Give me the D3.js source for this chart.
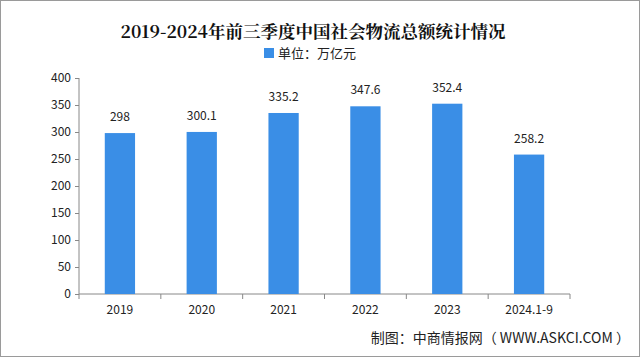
<!DOCTYPE html>
<html><head><meta charset="utf-8">
<script src="https://cdn.jsdelivr.net/npm/d3@7"></script>
<style>html,body{margin:0;padding:0;background:#fff;}svg{display:block;}</style>
</head><body>
<svg id="c" width="640" height="357"></svg>
<script>
const categories = ["2019","2020","2021","2022","2023","2024.1-9"];
const values = [298, 300.1, 335.2, 347.6, 352.4, 258.2];
const valueLabels = ["298","300.1","335.2","347.6","352.4","258.2"];
const yTicks = [0,50,100,150,200,250,300,350,400];
const title = "2019-2024年前三季度中国社会物流总额统计情况";
const legendLabel = "单位：万亿元";
const source = "制图：中商情报网（ WWW.ASKCI.COM ）";

const svg = d3.select("#c");
const color = "#3a8ee6";
const font = "'Noto Sans CJK SC', 'DejaVu Sans', sans-serif";

svg.append("rect").attr("x",0.5).attr("y",0.5).attr("width",639).attr("height",356)
  .attr("fill","#fff").attr("stroke","#9a9a9a").attr("stroke-width",1);

const x = d3.scaleBand().domain(categories).range([79,570]).paddingInner(0.63).paddingOuter(0.315);
const y = d3.scaleLinear().domain([0,400]).range([294,78]);

svg.append("text").attr("x",313).attr("y",38).attr("text-anchor","middle")
  .attr("font-family","'Noto Serif CJK SC','Noto Sans CJK SC',serif").attr("font-weight","bold")
  .attr("font-size",17.5).attr("fill","#111").text(title);

svg.append("rect").attr("x",264).attr("y",48).attr("width",10).attr("height",10).attr("fill",color);
svg.append("text").attr("x",278).attr("y",58).attr("font-family",font).attr("font-size",13)
  .attr("fill","#222").text(legendLabel);

// y axis
const ya = svg.append("g").attr("transform","translate(79,0)")
  .call(d3.axisLeft(y).tickValues(yTicks).tickSize(4).tickPadding(4));
ya.select(".domain").attr("stroke","#888").attr("d","M0,78V294");
ya.selectAll(".tick line").attr("stroke","#888");
ya.selectAll("text").attr("font-family",font).attr("font-size",12).attr("fill","#222");

// x axis
const xa = svg.append("g").attr("transform","translate(0,294)")
  .call(d3.axisBottom(x).tickSize(0).tickPadding(11));
xa.select(".domain").attr("stroke","#888").attr("d","M79,0H570");
xa.selectAll("text").attr("font-family",font).attr("font-size",12).attr("fill","#222");
const bounds = d3.range(categories.length+1).map(i => 79 + i*(491/categories.length));
svg.append("g").selectAll("line").data(bounds).join("line")
  .attr("x1",d=>d).attr("x2",d=>d).attr("y1",294).attr("y2",299).attr("stroke","#888");

// bars
svg.append("g").selectAll("rect").data(values).join("rect")
  .attr("x",(d,i)=>x(categories[i])).attr("width",x.bandwidth())
  .attr("y",d=>y(d)).attr("height",d=>y(0)-y(d)).attr("fill",color);

svg.append("g").selectAll("text").data(values).join("text")
  .attr("x",(d,i)=>x(categories[i])+x.bandwidth()/2).attr("y",d=>y(d)-12)
  .attr("text-anchor","middle").attr("font-family",font).attr("font-size",12).attr("fill","#222")
  .text((d,i)=>valueLabels[i]);

svg.append("text").attr("x",630).attr("y",343).attr("text-anchor","end")
  .attr("font-family",font).attr("font-size",14).attr("fill","#222").text(source);
</script>
</body></html>
